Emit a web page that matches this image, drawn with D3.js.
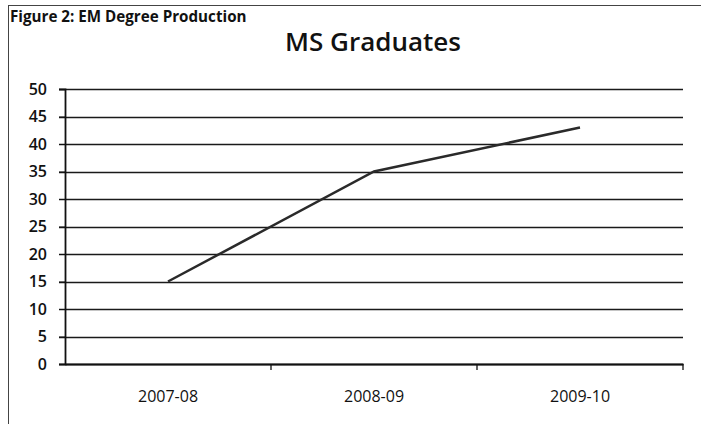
<!DOCTYPE html>
<html><head><meta charset="utf-8">
<script src="https://cdn.jsdelivr.net/npm/d3@7"></script>
<style>body{margin:0;background:#fff}svg{display:block}</style>
</head><body>
<script>
const categories = ["2007-08", "2008-09", "2009-10"];
const values = [15, 35, 43];
const yTicks = [0, 5, 10, 15, 20, 25, 30, 35, 40, 45, 50];
const figureLabel = "Figure 2: EM Degree Production";
const chartTitle = "MS Graduates";

(function () {
const W = 701, H = 424;
const svg = d3.select("body").append("svg").attr("width", W).attr("height", H);
const font = "'Open Sans', sans-serif";

// outer frame
svg.append("line").attr("x1", 8.5).attr("x2", 8.5).attr("y1", 5).attr("y2", H).attr("stroke", "#444").attr("stroke-width", 1);
svg.append("line").attr("x1", 8).attr("x2", W).attr("y1", 5.5).attr("y2", 5.5).attr("stroke", "#444").attr("stroke-width", 1);

const mLeft = 65, mRight = 683, mTop = 89, mBottom = 364;
const x = d3.scaleBand().domain(categories).range([mLeft, mRight]);
const y = d3.scaleLinear().domain([0, 50]).range([mBottom, mTop]);

// gridlines
svg.append("g").selectAll("line").data(yTicks).join("line")
  .attr("x1", mLeft - 6).attr("x2", mRight)
  .attr("y1", d => Math.round(y(d)) + 0.5).attr("y2", d => Math.round(y(d)) + 0.5)
  .attr("stroke", "#1a1a1a").attr("stroke-width", 1.3);

// y axis
const yAxis = svg.append("g").attr("transform", `translate(${mLeft},0)`)
  .call(d3.axisLeft(y).tickValues(yTicks).tickSize(6).tickPadding(12));
yAxis.select(".domain").attr("stroke", "#111").attr("stroke-width", 1.8);
yAxis.selectAll(".tick line").attr("stroke", "#111");
yAxis.selectAll("text").attr("font-family", font).attr("font-weight", 600).attr("font-size", 16).attr("fill", "#111");

// x axis
const xAxis = svg.append("g").attr("transform", `translate(0,${mBottom})`)
  .call(d3.axisBottom(x).tickSize(0).tickPadding(27));
xAxis.select(".domain").attr("stroke", "#111").attr("stroke-width", 1.8);
xAxis.selectAll("text").attr("font-family", font).attr("font-weight", 400).attr("font-size", 16).attr("fill", "#111");
// boundary ticks between categories
const bounds = categories.map(c => x(c) + x.bandwidth());
svg.append("g").selectAll("line").data(bounds).join("line")
  .attr("x1", d => d).attr("x2", d => d)
  .attr("y1", mBottom).attr("y2", mBottom + 6)
  .attr("stroke", "#111").attr("stroke-width", 1.3);

// data line
const line = d3.line().x((d, i) => x(categories[i]) + x.bandwidth() / 2).y(d => y(d));
svg.append("path").datum(values).attr("d", line)
  .attr("fill", "none").attr("stroke", "#2a2a2a").attr("stroke-width", 2.5);

// titles
svg.append("text").attr("x", 10).attr("y", 22).attr("font-family", font)
  .attr("font-weight", "bold").attr("font-size", 15.2).attr("fill", "#111").text(figureLabel);
svg.append("text").attr("x", 373).attr("y", 51).attr("text-anchor", "middle")
  .attr("font-family", font).attr("font-weight", 600).attr("font-size", 26).attr("fill", "#111").text(chartTitle);
})();
</script>
</body></html>
